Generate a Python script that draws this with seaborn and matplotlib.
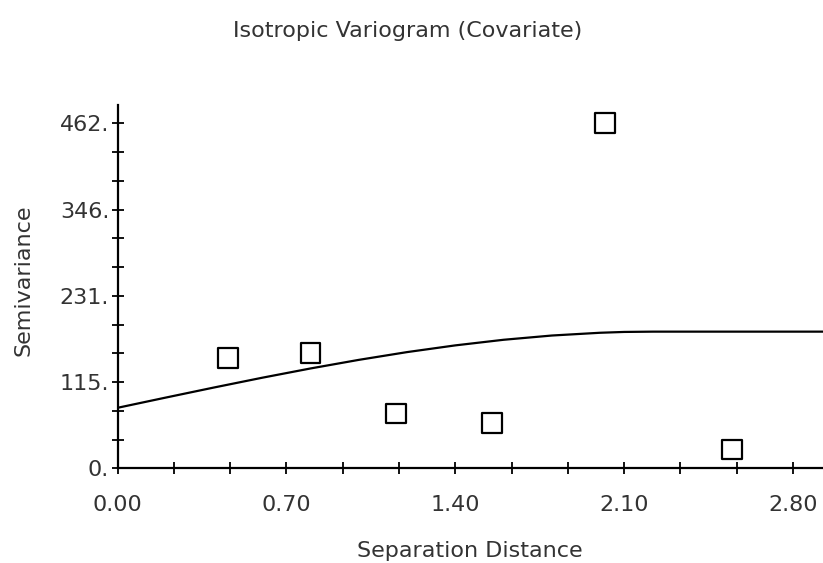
import numpy as np
import matplotlib
matplotlib.use("Agg")
import matplotlib.pyplot as plt
from matplotlib.ticker import FixedLocator, MultipleLocator
import pandas as pd
import seaborn as sns

lag_dist = [0.459, 0.800, 1.153, 1.551, 2.021, 2.546]
semivar = [147.3, 154.0, 73.6, 61.0, 462.0, 25.4]

# fitted model curve
model_dist = [0.00, 0.20, 0.40, 0.60, 0.80, 1.00, 1.20, 1.40, 1.60, 1.80, 2.00, 2.10, 2.22, 2.95]
model_semivar = [81.0, 94.7, 108.2, 121.3, 133.7, 145.2, 155.6, 164.6, 172.1, 177.8, 181.5, 182.6, 183.0, 183.0]

x_major = [0.0, 0.70, 1.40, 2.10, 2.80]
x_labels = ["0.00", "0.70", "1.40", "2.10", "2.80"]
y_major = [0.0, 115.5, 231.0, 346.5, 462.0]
y_labels = ["0.", "115.", "231.", "346.", "462."]

sns.set_style("white")
plt.rcParams['font.family'] = ['DejaVu Sans']
txt_color = '#333333'
fs = 16

fig = plt.figure(figsize=(8.23, 5.63), dpi=100)
ax = fig.add_axes([117.5 / 823, 1 - 468.3 / 563, 1 - 117.5 / 823, (468.3 - 105) / 563])

pts = pd.DataFrame({'dist': lag_dist, 'gamma': semivar})
model = pd.DataFrame({'dist': model_dist, 'gamma': model_semivar})

sns.lineplot(data=model, x='dist', y='gamma', ax=ax, color='black', linewidth=1.6)
sns.scatterplot(data=pts, x='dist', y='gamma', ax=ax, marker='s', s=200,
                facecolor='none', edgecolor='black', linewidth=1.6, zorder=3)

ax.set_xlim(0, 2.924)
ax.set_ylim(0, 486.5)

for side in ['top', 'right']:
    ax.spines[side].set_visible(False)
for side in ['left', 'bottom']:
    ax.spines[side].set_color('black')
    ax.spines[side].set_linewidth(1.6)

ax.xaxis.set_major_locator(FixedLocator(x_major))
ax.set_xticklabels(x_labels)
ax.xaxis.set_minor_locator(MultipleLocator(0.7 / 3))
ax.yaxis.set_major_locator(FixedLocator(y_major))
ax.set_yticklabels(y_labels)
ax.yaxis.set_minor_locator(MultipleLocator(462 / 12))

ax.tick_params(which='both', direction='inout', length=8, width=1.3, color='black',
               bottom=True, left=True)
ax.tick_params(axis='x', which='major', pad=15, labelsize=fs, labelcolor=txt_color)
ax.tick_params(axis='y', which='major', pad=2, labelsize=fs, labelcolor=txt_color)

ax.set_xlabel("Separation Distance", fontsize=fs, color=txt_color, labelpad=19)
ax.set_ylabel("")
fig.text(24 / 823, 1 - 280 / 563, "Semivariance", rotation=90, fontsize=fs,
         color=txt_color, ha='center', va='center')
fig.text(408 / 823, 1 - 31 / 563, "Isotropic Variogram (Covariate)", fontsize=fs,
         color=txt_color, ha='center', va='center')

fig.savefig("out.png", dpi=100, facecolor='white')
